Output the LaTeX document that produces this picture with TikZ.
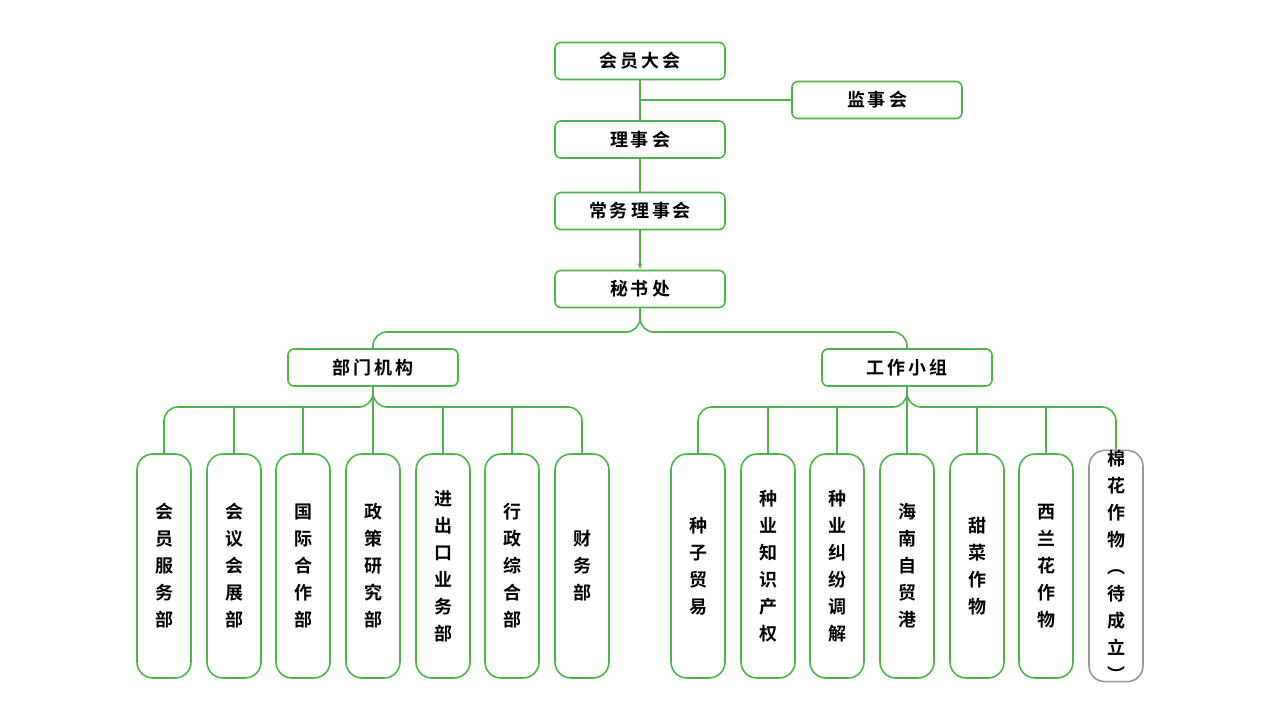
\documentclass[tikz,border=0pt]{standalone}
\usepackage{fontspec}
\setmainfont{Noto Sans CJK SC}[BoldFont={* Bold}]
\usetikzlibrary{arrows.meta}
\definecolor{gr}{RGB}{76,180,72}
\definecolor{gy}{RGB}{150,150,150}
\begin{document}
\begin{tikzpicture}[x=1pt,y=-1pt,
 box/.style={draw=gr,line width=1.6pt,rounded corners=6pt,minimum width=170pt,minimum height=37pt,inner sep=0pt,font=\bfseries\fontsize{18}{18}\selectfont},
 tall/.style={draw=gr,line width=1.6pt,rounded corners=16pt,minimum width=54pt,minimum height=224pt,inner sep=0pt,align=center,font=\bfseries\fontsize{18}{27}\selectfont},
 ln/.style={draw=gr,line width=1.6pt,rounded corners=14pt}]
\useasboundingbox (0,0) rectangle (1280,720);
\node[box] (hy) at (640,61) {会\,员\,大\,会};
\node[box] (js) at (877,100) {监\,事\,会};
\node[box] (ls) at (640,139.5) {理\,事\,会};
\node[box] (cw) at (640,211) {常\,务\,理\,事\,会};
\node[box] (ms) at (640,289) {秘\,书\,处};
\node[box] (bm) at (373,367.5) {部\,门\,机\,构};
\node[box] (gz) at (907,367.5) {工\,作\,小\,组};
\draw[ln,rounded corners=0pt] (hy.south) -- (ls.north);
\draw[ln,rounded corners=0pt] (640,100) -- (js.west);
\draw[ln,rounded corners=0pt] (ls.south) -- (cw.north);
\draw[ln,rounded corners=0pt,-{Latex[length=6pt,width=5pt]}] (cw.south) -- (ms.north);
\draw[ln] (ms.south) |- (500,332) -| (bm.north);
\draw[ln] (ms.south) |- (780,332) -| (gz.north);
\foreach \n/\x/\t in {c1/164/会\\员\\服\\务\\部, c2/234/会\\议\\会\\展\\部, c3/303/国\\际\\合\\作\\部, c4/373/政\\策\\研\\究\\部, c5/443/进\\出\\口\\业\\务\\部, c6/512/行\\政\\综\\合\\部, c7/582/财\\务\\部,
 d1/698/种\\子\\贸\\易, d2/768/种\\业\\知\\识\\产\\权, d3/837/种\\业\\纠\\纷\\调\\解, d4/907/海\\南\\自\\贸\\港, d5/977/甜\\菜\\作\\物, d6/1046/西\\兰\\花\\作\\物}
 \node[tall] (\n) at (\x,566) {\t};
\node[tall,draw=gy] (d7) at (1116,566) {棉\\花\\作\\物\\︵\\待\\成\\立\\︶};
\draw[ln] (bm.south) |- (250,407) -| (c1.north);
\draw[ln] (bm.south) |- (500,407) -| (c7.north);
\draw[ln] (gz.south) |- (780,407) -| (d1.north);
\draw[ln] (gz.south) |- (1030,407) -| (d7.north);
\foreach \n in {c2,c3,c5,c6,d2,d3,d5,d6} \draw[ln] (\n.north) -- (\n.north |- 0,407);
\draw[ln] (c4.north) -- (bm.south);
\draw[ln] (d4.north) -- (gz.south);
\end{tikzpicture}
\end{document}
